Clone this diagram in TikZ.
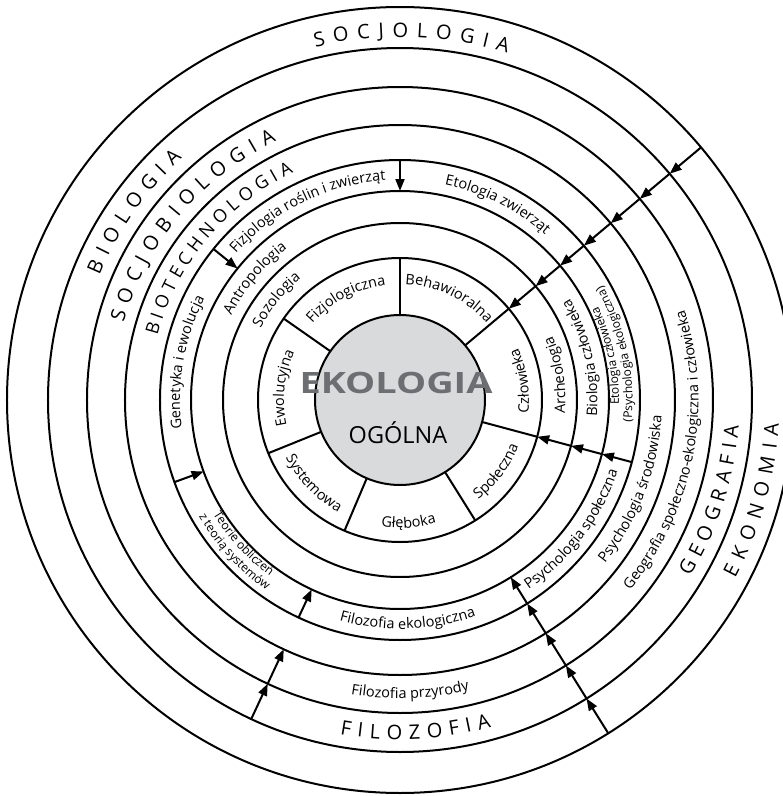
\documentclass[tikz,border=0pt]{standalone}
\usepackage{fontspec}
\setmainfont{Open Sans}
\usetikzlibrary{arrows.meta, decorations.text}

\definecolor{corefill}{RGB}{217,218,219}
\definecolor{titlegray}{RGB}{109,110,113}

\newcommand{\lblfont}{\fontsize{14.5}{17}\selectfont}
\newcommand{\twofont}{\fontsize{12}{14}\selectfont}
\newcommand{\capsfont}{\fontsize{20}{24}\selectfont}
\newcommand{\smcapsfont}{\fontsize{18}{22}\selectfont}

% text on an arc centred on an angle: radius, angle, text
\newcommand{\cwlabel}[3]{%
  \path[ctext={#3}] ({#2+60}:#1) arc[start angle={#2+60}, delta angle=-120, radius=#1];}
\newcommand{\ccwlabel}[3]{%
  \path[ctext={#3}] ({#2-60}:#1) arc[start angle={#2-60}, delta angle=120, radius=#1];}
% spaced capitals from one angle to another
\newcommand{\capslabel}[4]{%
  \path[ftext={#4}] (#2:#1) arc[start angle=#2, end angle=#3, radius=#1];}

\begin{document}
\begin{tikzpicture}[
  ring/.style={line width=2pt},
  arr/.style={-{Triangle[length=12pt, width=9pt]}, line width=2pt},
  ctext/.style={decorate, decoration={text along path, text align=center, text={#1}}},
  ftext/.style={decorate, decoration={text along path, text align=fit to path, text={#1}}}
]

\fill[white] (-400pt,-396pt) rectangle (383pt,400pt);
\useasboundingbox (-400pt,-396pt) rectangle (383pt,400pt);
\clip (-400pt,-396pt) rectangle (383pt,400pt);

% --- rings ---
\foreach \r in {142pt,177pt,209pt,240pt,275pt,313pt,352pt,393pt}
  \draw[ring] (0,0) circle[radius=\r];

% --- core ---
\node[circle, draw, line width=2pt, fill=corefill, minimum size=170pt,
      inner sep=0pt] (core) at (0,0) {};
\node[anchor=base, text=titlegray, font=\bfseries\fontsize{29.4}{32}\selectfont]
      (title) at (-4pt,7pt) {\scalebox{1.29}[1]{EKOLOGIA}};
\node[anchor=base, font=\fontsize{23.5}{26}\selectfont]
      (subtitle) at (-2pt,-43pt) {OGÓLNA};

% sector lines of the first ring
\foreach \a in {90,145,202,247,-58,-15,40}
  \draw[ring] (\a:85pt) -- (\a:142pt);

% ---- ring 1 ----
\cwlabel{116pt}{118}{|\lblfont|Fizjologiczna}
\cwlabel{116pt}{64.5}{|\lblfont|Behawioralna}
\ccwlabel{129pt}{9}{|\lblfont|Człowieka}
\ccwlabel{127pt}{-36.5}{|\lblfont|Społeczna}
\ccwlabel{128pt}{-86}{|\lblfont|Głęboka}
\ccwlabel{128pt}{224}{|\lblfont|Systemowa}
\cwlabel{116pt}{174}{|\lblfont|Ewolucyjna}

% ---- ring 2 ----
\cwlabel{156.6pt}{141}{|\lblfont|Sozologia}
\ccwlabel{165.4pt}{9}{|\lblfont|Archeologia}

% ---- ring 3 ----
\cwlabel{188.6pt}{140}{|\lblfont|Antropologia}
\ccwlabel{197.4pt}{13}{|\lblfont|Biologia człowieka}

% ---- ring 4 ----
\cwlabel{220pt}{116}{|\lblfont|Fizjologia roślin i zwierząt}
\cwlabel{220pt}{63.5}{|\lblfont|Etologia zwierząt}
\ccwlabel{219pt}{12}{|\twofont|Etologia człowieka}
\ccwlabel{232.5pt}{12}{|\twofont|(Psychologia ekologiczna)}
\ccwlabel{229pt}{-37}{|\lblfont|Psychologia społeczna}
\ccwlabel{229pt}{272}{|\lblfont|Filozofia ekologiczna}
\ccwlabel{219pt}{222.5}{|\twofont|Teorie obliczeń}
\ccwlabel{232.5pt}{222.5}{|\twofont|z teorią systemów}
\cwlabel{220pt}{170}{|\lblfont|Genetyka i ewolucja}

% ---- ring 5 ----
\ccwlabel{262pt}{-21}{|\lblfont|Psychologia środowiska}
\capslabel{251pt}{165.2}{115.1}{|\smcapsfont|BIOTECHNOLOGIA}

% ---- ring 6 ----
\ccwlabel{298.4pt}{-11}{|\lblfont|Geografia społeczno-ekologiczna i człowieka}
\ccwlabel{298.4pt}{272}{|\lblfont|Filozofia przyrody}
\capslabel{287pt}{164.4}{115.5}{|\capsfont|SOCJOBIOLOGIA}

% ---- ring 7 ----
\capslabel{325.4pt}{157.5}{132}{|\capsfont|BIOLOGIA}
\capslabel{339.6pt}{-31.4}{-4.3}{|\capsfont|GEOGRAFIA}
\capslabel{339.6pt}{259.8}{285.6}{|\capsfont|FILOZOFIA}

% ---- ring 8 ----
\capslabel{363pt}{103.5}{72.8}{|\capsfont|SOCJOLOGIA}
\capslabel{379.6pt}{-28}{-3.6}{|\capsfont|EKONOMIA}

% ---- arrows towards the centre ----
\draw[arr] (90:240pt) -- (90:209pt);
\draw[arr] (141:240pt) -- (141:209pt);
\draw[arr] (200:240pt) -- (200:209pt);
\draw[arr] (245:352pt) -- (245:313pt);
\draw[arr] (245:313pt) -- (245:275pt);
\draw[arr] (245:240pt) -- (245:209pt);

\foreach \a/\b in {393pt/352pt, 352pt/313pt, 313pt/275pt, 275pt/240pt, 240pt/209pt}
  \draw[arr] (-58:\a) -- (-58:\b);

\foreach \a/\b in {240pt/209pt, 209pt/177pt, 177pt/142pt}
  \draw[arr] (-15:\a) -- (-15:\b);

\foreach \a/\b in {393pt/352pt, 352pt/313pt, 313pt/275pt, 275pt/240pt,
                   240pt/209pt, 209pt/177pt, 177pt/142pt}
  \draw[arr] (40:\a) -- (40:\b);

\end{tikzpicture}
\end{document}
